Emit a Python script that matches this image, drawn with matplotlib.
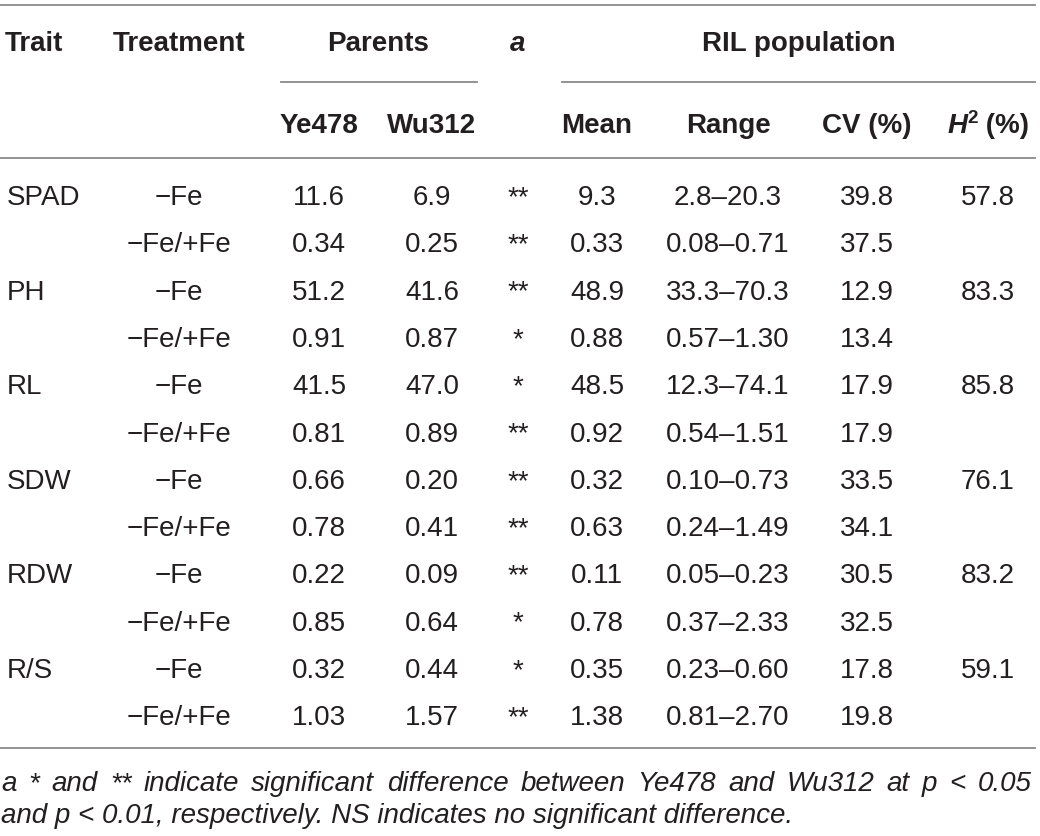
import matplotlib
matplotlib.use("Agg")
import matplotlib.pyplot as plt

# ---------------- data ----------------
traits = ["SPAD", "", "PH", "", "RL", "", "SDW", "", "RDW", "", "R/S", ""]
treatments = ["−Fe", "−Fe/+Fe"] * 6
ye478 = ["11.6", "0.34", "51.2", "0.91", "41.5", "0.81", "0.66", "0.78", "0.22", "0.85", "0.32", "1.03"]
wu312 = ["6.9", "0.25", "41.6", "0.87", "47.0", "0.89", "0.20", "0.41", "0.09", "0.64", "0.44", "1.57"]
sig = ["**", "**", "**", "*", "*", "**", "**", "**", "**", "*", "*", "**"]
means = ["9.3", "0.33", "48.9", "0.88", "48.5", "0.92", "0.32", "0.63", "0.11", "0.78", "0.35", "1.38"]
ranges = ["2.8–20.3", "0.08–0.71", "33.3–70.3", "0.57–1.30", "12.3–74.1", "0.54–1.51",
          "0.10–0.73", "0.24–1.49", "0.05–0.23", "0.37–2.33", "0.23–0.60", "0.81–2.70"]
cvs = ["39.8", "37.5", "12.9", "13.4", "17.9", "17.9", "33.5", "34.1", "30.5", "32.5", "17.8", "19.8"]
h2 = ["57.8", "", "83.3", "", "85.8", "", "76.1", "", "83.2", "", "59.1", ""]
header_top = ["Trait", "Treatment", "Parents", "a", "RIL population"]
header_sub = ["Ye478", "Wu312", "Mean", "Range", "CV (%)"]
footnote1 = "a * and ** indicate significant difference between Ye478 and Wu312 at p < 0.05"
footnote2 = "and p < 0.01, respectively. NS indicates no significant difference."

# ---------------- layout ----------------
W, H = 1040, 836
fig = plt.figure(figsize=(W / 100, H / 100), dpi=100)
ax = fig.add_axes([0, 0, 1, 1])
ax.set_xlim(0, W)
ax.set_ylim(H, 0)
ax.axis("off")

FONT = "Liberation Sans"
TXT = "#231f20"
LINE = "#8a8a8a"
FS = 20

# column centres
x_trait = 5
x_treat = 179
x_ye, x_wu, x_a = 319, 432, 518
x_mean, x_range, x_cv, x_h2 = 597, 728, 867, 988

# horizontal rules
lw = 1.3
ax.plot([0, 1035], [5, 5], color=LINE, lw=lw)
ax.plot([281, 477], [82, 82], color=LINE, lw=lw)
ax.plot([562, 1035], [82, 82], color=LINE, lw=lw)
ax.plot([0, 1035], [158, 158], color=LINE, lw=lw)
ax.plot([0, 1035], [748, 748], color=LINE, lw=lw)

bold = dict(fontfamily=FONT, fontweight="bold", fontsize=FS, color=TXT, va="baseline")
reg = dict(fontfamily=FONT, fontsize=FS, color=TXT, va="baseline")

# header row 1
yb1 = 51
ax.text(x_trait, yb1, header_top[0], ha="left", **bold)
ax.text(x_treat, yb1, header_top[1], ha="center", **bold)
ax.text(378, yb1, header_top[2], ha="center", **bold)
ax.text(x_a, yb1, header_top[3], ha="center", style="italic", **bold)
ax.text(799, yb1, header_top[4], ha="center", **bold)

# header row 2
yb2 = 133
for x, s in zip([x_ye, x_wu, x_mean, x_range, x_cv], header_sub):
    ax.text(x, yb2, s, ha="center", **bold)

# H^2 (%) header built from pieces
fig.canvas.draw()
r = fig.canvas.get_renderer()
pieces = [("H", dict(style="italic", fontsize=FS), 0),
          ("2", dict(fontsize=FS * 0.68), -10),
          (" (%)", dict(fontsize=FS), 0)]
objs = []
for s, kw, dy in pieces:
    kk = dict(bold)
    kk.update(kw)
    objs.append(ax.text(0, yb2 + dy, s, ha="left", **kk))
widths = [t.get_window_extent(renderer=r).width for t in objs]
xcur = x_h2 - sum(widths) / 2
for t, w in zip(objs, widths):
    t.set_x(xcur)
    xcur += w

# data rows
y0 = 205
dy = 47.3
for i in range(len(treatments)):
    yb = y0 + dy * i
    if traits[i]:
        ax.text(x_trait + 2, yb, traits[i], ha="left", **reg)
    ax.text(x_treat, yb, treatments[i], ha="center", **reg)
    ax.text(x_ye, yb, ye478[i], ha="center", **reg)
    ax.text(x_wu, yb, wu312[i], ha="center", **reg)
    ax.text(x_a, yb, sig[i], ha="center", **reg)
    ax.text(x_mean, yb, means[i], ha="center", **reg)
    ax.text(x_range, yb, ranges[i], ha="center", **reg)
    ax.text(x_cv, yb, cvs[i], ha="center", **reg)
    if h2[i]:
        ax.text(x_h2, yb, h2[i], ha="center", **reg)

# footnote: line 1 justified to full width
FN = 20
fn = dict(fontfamily=FONT, fontsize=FN, style="italic", color=TXT, va="baseline")
words = footnote1.split(" ")
fig.canvas.draw()
r = fig.canvas.get_renderer()
wobjs = [ax.text(0, 791, w, ha="left", **fn) for w in words]
ww = [t.get_window_extent(renderer=r).width for t in wobjs]
left, right = 1, 1032
gap = (right - left - sum(ww)) / (len(words) - 1)
if gap < 4:
    scale = (right - left - 5.0 * (len(words) - 1)) / sum(ww)
    for t in wobjs:
        t.set_fontsize(FN * scale)
    fig.canvas.draw()
    ww = [t.get_window_extent(renderer=r).width for t in wobjs]
    gap = (right - left - sum(ww)) / (len(words) - 1)
xcur = left
for t, w in zip(wobjs, ww):
    t.set_x(xcur)
    xcur += w + gap
fn2 = dict(fn)
fn2["fontsize"] = wobjs[0].get_fontsize()
ax.text(left, 823, footnote2, ha="left", **fn2)

fig.savefig("out.png", dpi=100, facecolor="white")
